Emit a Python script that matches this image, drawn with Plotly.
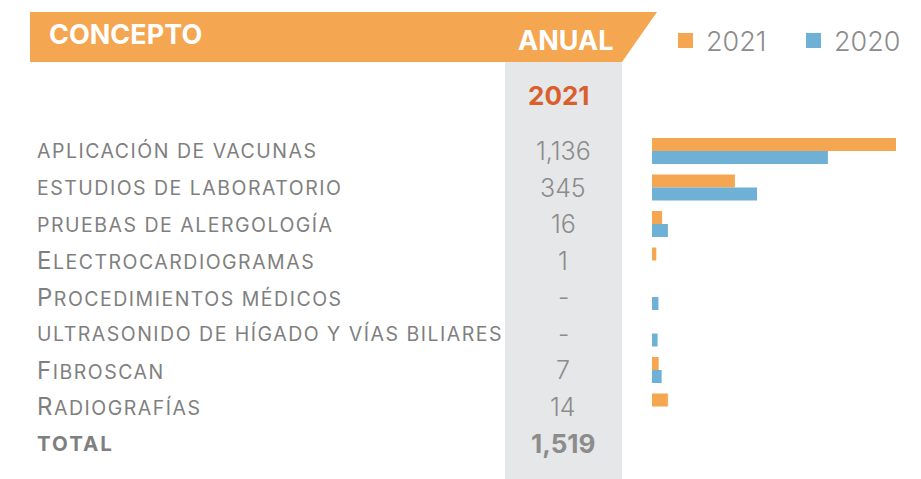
import plotly.graph_objects as go

W, H = 921, 479
OFF = 8  # page body margin of the html page

categorias = ["aplicación de vacunas", "estudios de laboratorio", "pruebas de alergología",
              "Electrocardiogramas", "Procedimientos médicos",
              "ultrasonido de hígado y vías biliares", "Fibroscan", "Radiografías", "TOTAL"]
anual_2021_txt = ["1,136", "345", "16", "1", "-", "-", "7", "14", "1,519"]
barras_2021 = [1136, 386, 47, 20, None, None, 31, 74, None]
barras_2020 = [819, 489, 74, None, 30, 26, 45, None, None]
series = ["2021", "2020"]

ORANGE = "#F4A651"
BLUE = "#6EB0D6"
GRAY_TXT = "#7F7F7F"
NUM_TXT = "#8C8C8C"
FONT = "Inter, Lato, sans-serif"

def px(x):
    return (x - OFF) / W

def py(y):
    return 1 - (y - OFF) / H

def etiqueta(c):
    if c == "TOTAL":
        return '<span style="letter-spacing:2px"><b>TOTAL</b></span>'
    if c[0].isupper():
        return (f'<span style="letter-spacing:1.5px"><span style="font-size:24px">{c[0]}</span>'
                f'{c[1:].upper()}</span>')
    return f'<span style="letter-spacing:1.5px">{c.upper()}</span>'

fig = go.Figure()
fig.add_trace(go.Bar(y=categorias, x=barras_2021, orientation="h", name=series[0],
                     marker=dict(color=ORANGE, line=dict(width=0))))
fig.add_trace(go.Bar(y=categorias, x=barras_2020, orientation="h", name=series[1],
                     marker=dict(color=BLUE, line=dict(width=0))))

shapes = [
    dict(type="rect", xref="paper", yref="paper", x0=px(505), x1=px(622), y0=py(479), y1=py(62),
         fillcolor="#E6E7E9", line=dict(width=0), layer="below"),
    dict(type="path", xref="paper", yref="paper",
         path=f"M {px(30)} {py(12)} L {px(657)} {py(12)} L {px(622)} {py(62)} L {px(30)} {py(62)} Z",
         fillcolor=ORANGE, line=dict(width=0), layer="below"),
    # legend swatches
    dict(type="rect", xref="paper", yref="paper", x0=px(678), x1=px(693), y0=py(48), y1=py(33),
         fillcolor=ORANGE, line=dict(width=0)),
    dict(type="rect", xref="paper", yref="paper", x0=px(806), x1=px(821), y0=py(48), y1=py(33),
         fillcolor=BLUE, line=dict(width=0)),
]

annotations = [
    dict(text="<b>CONCEPTO</b>", xref="paper", yref="paper", x=px(47), y=py(35), xanchor="left",
         yanchor="middle", showarrow=False, font=dict(family=FONT, size=27, color="white")),
    dict(text="<b>ANUAL</b>", xref="paper", yref="paper", x=px(615), y=py(40), xanchor="right",
         yanchor="middle", showarrow=False, font=dict(family=FONT, size=27, color="white")),
    dict(text="<b>2021</b>", xref="paper", yref="paper", x=px(559), y=py(96), xanchor="center",
         yanchor="middle", showarrow=False, font=dict(family=FONT, size=26, color="#D9602C")),
    dict(text=series[0], xref="paper", yref="paper", x=px(704), y=py(41), xanchor="left",
         yanchor="middle", showarrow=False, font=dict(family=FONT, size=27, color=NUM_TXT, weight=300)),
    dict(text=series[1], xref="paper", yref="paper", x=px(832), y=py(41), xanchor="left",
         yanchor="middle", showarrow=False, font=dict(family=FONT, size=27, color=NUM_TXT, weight=300)),
]
for cat, val in zip(categorias, anual_2021_txt):
    is_total = cat == "TOTAL"
    annotations.append(dict(
        text=etiqueta(cat), xref="paper", yref="y", x=px(35), y=cat,
        xanchor="left", yanchor="middle", showarrow=False,
        font=dict(family=FONT, size=20.5 if is_total else 19.5, color=GRAY_TXT)))
    annotations.append(dict(
        text=f"<b>{val}</b>" if is_total else val, xref="paper", yref="y", x=px(563), y=cat,
        xanchor="center", yanchor="middle", showarrow=False,
        font=dict(family=FONT, size=26 if is_total else 25, color=NUM_TXT,
                  weight=700 if is_total else 300)))

fig.update_layout(
    width=W, height=H, margin=dict(l=0, r=0, t=0, b=0),
    paper_bgcolor="white", plot_bgcolor="rgba(0,0,0,0)",
    barmode="group", bargap=0.29, bargroupgap=0,
    shapes=shapes, annotations=annotations,
    showlegend=False,
    xaxis=dict(domain=[px(652), px(896)], range=[0, 1136], visible=False, fixedrange=True),
    yaxis=dict(domain=[py(461.25), py(132.75)], categoryorder="array", categoryarray=categorias,
               autorange="reversed", visible=False, fixedrange=True),
)

fig.write_html("out.html")
